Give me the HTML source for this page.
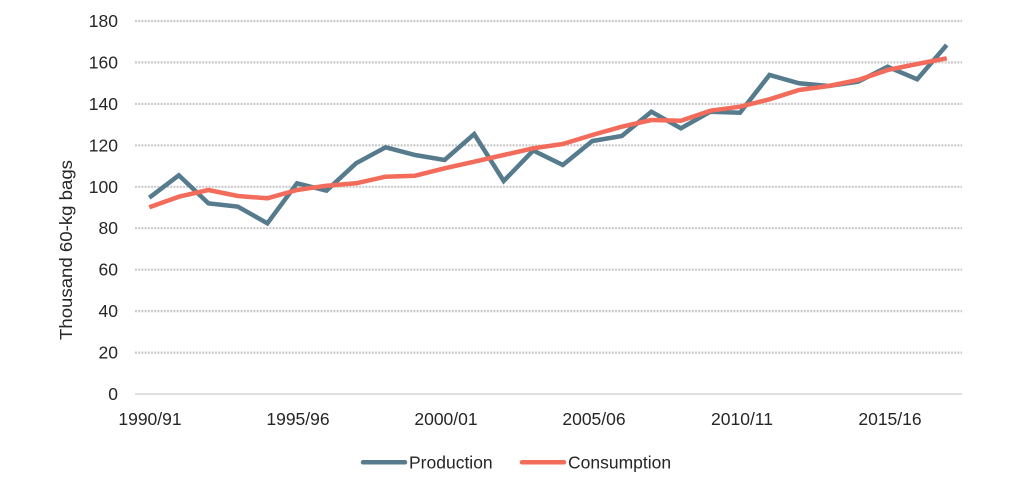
<!DOCTYPE html>
<html>
<head>
<meta charset="utf-8">
<style>
html,body{margin:0;padding:0;background:#fff;}
svg{display:block;}
text{font-family:"Liberation Sans",Arial,sans-serif;fill:#262626;}
</style>
</head>
<body>
<svg width="1024" height="498" viewBox="0 0 1024 498" xmlns="http://www.w3.org/2000/svg">
<g stroke="#c9c9c9" stroke-width="2.2" stroke-dasharray="2,1.2">
<line x1="135" y1="21" x2="962" y2="21"/>
<line x1="135" y1="62.4" x2="962" y2="62.4"/>
<line x1="135" y1="103.9" x2="962" y2="103.9"/>
<line x1="135" y1="145.3" x2="962" y2="145.3"/>
<line x1="135" y1="186.8" x2="962" y2="186.8"/>
<line x1="135" y1="228.2" x2="962" y2="228.2"/>
<line x1="135" y1="269.7" x2="962" y2="269.7"/>
<line x1="135" y1="311.1" x2="962" y2="311.1"/>
<line x1="135" y1="352.6" x2="962" y2="352.6"/>
</g>
<line x1="135" y1="394" x2="962" y2="394" stroke="#d6d6d6" stroke-width="1.5"/>
<g font-size="17.5" text-anchor="end">
<text x="118" y="27">180</text>
<text x="118" y="68.4">160</text>
<text x="118" y="109.9">140</text>
<text x="118" y="151.3">120</text>
<text x="118" y="192.8">100</text>
<text x="118" y="234.2">80</text>
<text x="118" y="275.7">60</text>
<text x="118" y="317.1">40</text>
<text x="118" y="358.6">20</text>
<text x="118" y="400">0</text>
</g>
<g font-size="17.5" text-anchor="middle">
<text x="150" y="425">1990/91</text>
<text x="298" y="425">1995/96</text>
<text x="446" y="425">2000/01</text>
<text x="594" y="425">2005/06</text>
<text x="742" y="425">2010/11</text>
<text x="890" y="425">2015/16</text>
</g>
<text x="0" y="0" font-size="17.5" text-anchor="middle" transform="translate(72,250) rotate(-90)" textLength="180" lengthAdjust="spacingAndGlyphs">Thousand 60-kg bags</text>
<polyline fill="none" stroke="#557b8c" stroke-width="4.5" stroke-linejoin="miter" points="149.3,197.7 178.8,175.3 208.4,203.3 237.9,206.7 267.4,223.3 297,183.3 326.5,190.7 356,163.3 385.6,147.3 415.1,155 444.6,160 474.2,134 503.7,181 533.2,150.5 562.8,165 592.3,141 621.8,136 651.4,111.7 680.9,128.3 710.4,111.7 740,112.7 769.5,75 799,83.3 828.6,86 858.1,81.7 887.6,66.7 917.2,79.3 946.7,45"/>
<polyline fill="none" stroke="#f26b5b" stroke-width="4.5" stroke-linejoin="round" points="149.3,207.3 178.8,196.7 208.4,190 237.9,196 267.4,198.3 297,190 326.5,185.7 356,183.3 385.6,176.7 415.1,175.7 444.6,168.3 474.2,161.7 503.7,155 533.2,148.3 562.8,144 592.3,135 621.8,126.7 651.4,120 680.9,120.7 710.4,110.7 740,106.7 769.5,99.3 799,90 828.6,86 858.1,80 887.6,70 917.2,64 946.7,58.3"/>
<line x1="363" y1="462.3" x2="405" y2="462.3" stroke="#557b8c" stroke-width="4.5" stroke-linecap="round"/>
<text x="409" y="468.5" font-size="17.5">Production</text>
<line x1="522" y1="462.3" x2="564" y2="462.3" stroke="#f26b5b" stroke-width="4.5" stroke-linecap="round"/>
<text x="568" y="468.5" font-size="17.5">Consumption</text>
</svg>
</body>
</html>
